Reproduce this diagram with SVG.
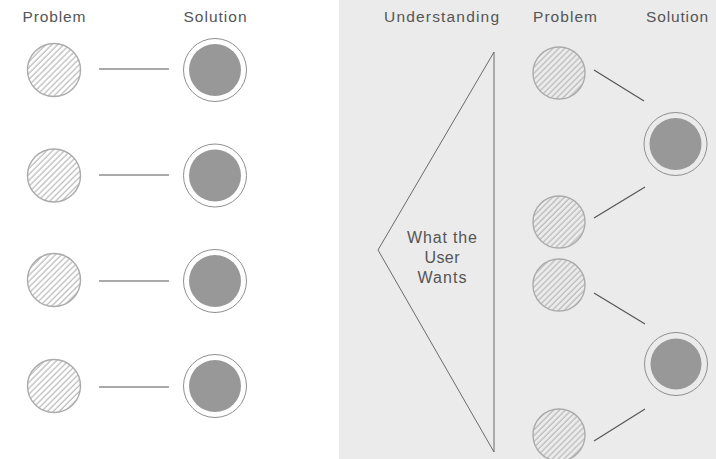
<svg xmlns="http://www.w3.org/2000/svg" width="716" height="459" viewBox="0 0 716 459">
  <defs>
    <!-- diagonal hatching used inside the problem circles -->
    <pattern id="hatch" patternUnits="userSpaceOnUse" width="4.2" height="4.2" patternTransform="rotate(45)">
      <line x1="1" y1="0" x2="1" y2="4.2" stroke="#b8b8b8" stroke-width="1.2"/>
    </pattern>
    <style>
      .label { font-family: "Liberation Sans", Arial, sans-serif; font-size: 15.5px; fill: #555; text-anchor: middle; }
      .inner { font-size: 16px; }
      .problem { fill: url(#hatch); stroke: #ababab; stroke-width: 1.4; }
      .ring { fill: none; stroke: #8f8f8f; stroke-width: 1; }
      .core { fill: #989898; }
      .link { stroke: #555; stroke-width: 1.2; fill: none; }
      .wedge { stroke: #6a6a6a; stroke-width: 1; fill: none; }
    </style>
  </defs>

  <rect x="0" y="0" width="716" height="459" fill="#ffffff"/>
  <!-- right-hand panel -->
  <rect id="panel" x="339" y="0" width="377" height="459" fill="#ebebeb"/>

  <!-- column headings -->
  <g id="headings">
    <text class="label" x="54" y="22" textLength="63" lengthAdjust="spacing">Problem</text>
    <text class="label" x="215" y="22" textLength="63" lengthAdjust="spacing">Solution</text>
    <text class="label" x="441.5" y="22" textLength="115" lengthAdjust="spacing">Understanding</text>
    <text class="label" x="565" y="22" textLength="64" lengthAdjust="spacing">Problem</text>
    <text class="label" x="677" y="22" textLength="62" lengthAdjust="spacing">Solution</text>
  </g>

  <!-- connectors -->
  <g id="connectors">
    <line class="link" x1="99" y1="69" x2="169" y2="69"/>
    <line class="link" x1="99" y1="175" x2="169" y2="175"/>
    <line class="link" x1="99" y1="281" x2="169" y2="281"/>
    <line class="link" x1="99" y1="387" x2="169" y2="387"/>
    <line class="link" x1="594" y1="70" x2="644" y2="101"/>
    <line class="link" x1="594" y1="218" x2="645" y2="187"/>
    <line class="link" x1="594" y1="293" x2="645" y2="324"/>
    <line class="link" x1="594" y1="441" x2="645" y2="409"/>
  </g>

  <!-- left column: one problem per solution -->
  <g id="p1"><circle class="problem" cx="54" cy="70" r="26.5"/></g>
  <g id="p2"><circle class="problem" cx="54" cy="175.5" r="26.5"/></g>
  <g id="p3"><circle class="problem" cx="54" cy="280" r="26.5"/></g>
  <g id="p4"><circle class="problem" cx="54" cy="386" r="26.5"/></g>

  <g id="s1"><circle class="ring" cx="215" cy="70" r="31.5"/><circle class="core" cx="215" cy="70" r="26"/></g>
  <g id="s2"><circle class="ring" cx="215" cy="175.5" r="31.5"/><circle class="core" cx="215" cy="175.5" r="26"/></g>
  <g id="s3"><circle class="ring" cx="215" cy="281" r="31.5"/><circle class="core" cx="215" cy="281" r="26"/></g>
  <g id="s4"><circle class="ring" cx="215" cy="386" r="31.5"/><circle class="core" cx="215" cy="386" r="26"/></g>

  <!-- understanding wedge -->
  <g id="understanding">
    <polyline class="wedge" points="494,52 378,250 494,452"/>
    <line class="wedge" x1="494" y1="52" x2="494" y2="452" stroke="#777"/>
    <text class="label inner" x="442" y="243" textLength="70" lengthAdjust="spacing">What the</text>
    <text class="label inner" x="442" y="263" textLength="35" lengthAdjust="spacing">User</text>
    <text class="label inner" x="442" y="283" textLength="49" lengthAdjust="spacing">Wants</text>
  </g>

  <!-- right column: two problems per solution -->
  <g id="rp1"><circle class="problem" cx="559" cy="73" r="26"/></g>
  <g id="rp2"><circle class="problem" cx="559" cy="222" r="26"/></g>
  <g id="rp3"><circle class="problem" cx="559" cy="285" r="26"/></g>
  <g id="rp4"><circle class="problem" cx="559" cy="435" r="26"/></g>

  <g id="rs1"><circle class="ring" cx="675.5" cy="144" r="31.5"/><circle class="core" cx="675.5" cy="144" r="26"/></g>
  <g id="rs2"><circle class="ring" cx="676" cy="364" r="31.5"/><circle class="core" cx="676" cy="364" r="25.5"/></g>
</svg>
